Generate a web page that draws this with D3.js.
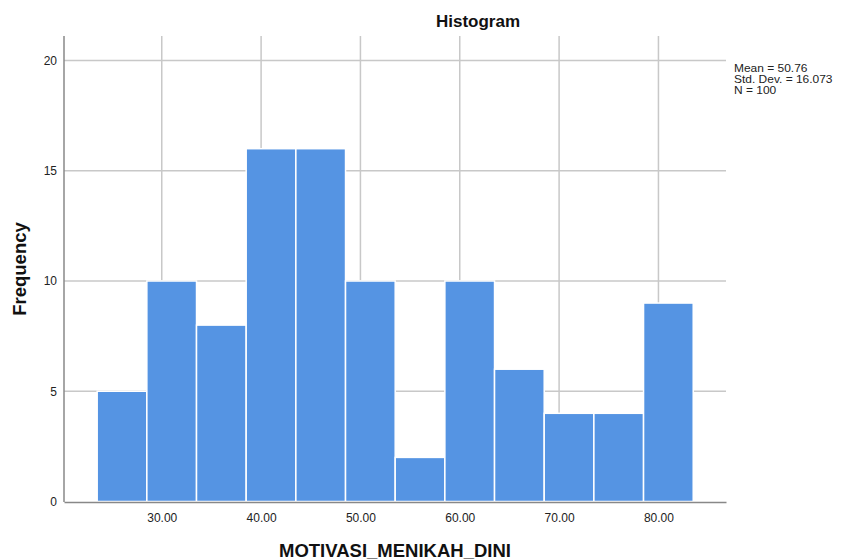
<!DOCTYPE html>
<html><head><meta charset="utf-8">
<script src="https://cdn.jsdelivr.net/npm/d3@7"></script>
<style>body{margin:0;background:#fff}svg{display:block;font-family:"Liberation Sans",Arial,sans-serif}</style>
</head><body><svg id="c" width="841" height="560"></svg>
<script>
const binStarts = [23.5,28.5,33.5,38.5,43.5,48.5,53.5,58.5,63.5,68.5,73.5,78.5];
const binWidth = 5;
const frequencies = [5,10,8,16,16,10,2,10,6,4,4,9];
const xTicks = [30,40,50,60,70,80];
const yTicks = [0,5,10,15,20];
const statsLines = ["Mean = 50.76","Std. Dev. = 16.073","N = 100"];

const svg = d3.select("#c");
const L=64, R=726, T=36, B=502;
const x = d3.scaleLinear().domain([20.16,86.8]).range([L,R]);
const y = d3.scaleLinear().domain([0,20]).range([501.5,60.5]);

// gridlines
svg.append("g").selectAll("line").data(yTicks.filter(d=>d>0)).join("line")
  .attr("x1",L).attr("x2",R).attr("y1",d=>y(d)).attr("y2",d=>y(d))
  .attr("stroke","#c8c8c8").attr("stroke-width",1.5);
svg.append("g").selectAll("line").data(xTicks).join("line")
  .attr("x1",d=>x(d)).attr("x2",d=>x(d)).attr("y1",T).attr("y2",B)
  .attr("stroke","#c8c8c8").attr("stroke-width",1.5);

// bars
svg.append("g").selectAll("rect").data(binStarts.map((s,i)=>({s,f:frequencies[i]}))).join("rect")
  .attr("x",d=>x(d.s)).attr("width",d=>x(d.s+binWidth)-x(d.s))
  .attr("y",d=>y(d.f)).attr("height",d=>y(0)-y(d.f))
  .attr("fill","#5594e3").attr("stroke","#ffffff").attr("stroke-width",1.5);

// axes
const xAxis = svg.append("g").attr("transform",`translate(0,${B})`)
  .call(d3.axisBottom(x).tickValues(xTicks).tickFormat(d3.format(".2f")).tickSize(0).tickPadding(11.5));
xAxis.select(".domain").attr("stroke","#888").attr("stroke-width",1.5);
xAxis.selectAll("text").attr("font-size",12).attr("fill","#222").attr("font-family","Liberation Sans, Arial, sans-serif");
const yAxis = svg.append("g").attr("transform",`translate(${L},0)`)
  .call(d3.axisLeft(y).tickValues(yTicks).tickSize(0).tickPadding(7));
yAxis.select(".domain").remove();
svg.append("line").attr("x1",L).attr("x2",L).attr("y1",T).attr("y2",B).attr("stroke","#888").attr("stroke-width",1.5);
yAxis.selectAll("text").attr("font-size",12).attr("fill","#222").attr("font-family","Liberation Sans, Arial, sans-serif");

// titles
svg.append("text").attr("x",478).attr("y",27).attr("text-anchor","middle")
  .attr("font-size",17).attr("font-weight","bold").attr("fill","#111").text("Histogram");
svg.append("text").attr("x",395).attr("y",557).attr("text-anchor","middle")
  .attr("font-size",18.5).attr("font-weight","bold").attr("fill","#111").text("MOTIVASI_MENIKAH_DINI");
svg.append("text").attr("transform","translate(26,269) rotate(-90)").attr("text-anchor","middle")
  .attr("font-size",18.5).attr("font-weight","bold").attr("fill","#111").text("Frequency");

svg.append("g").attr("transform","translate(734,0) scale(1.14,1)")
  .selectAll("text").data(statsLines).join("text")
  .attr("x",0).attr("y",(d,i)=>72.5+i*10.8).attr("font-size",10.5).attr("fill","#222").text(d=>d);
</script></body></html>
